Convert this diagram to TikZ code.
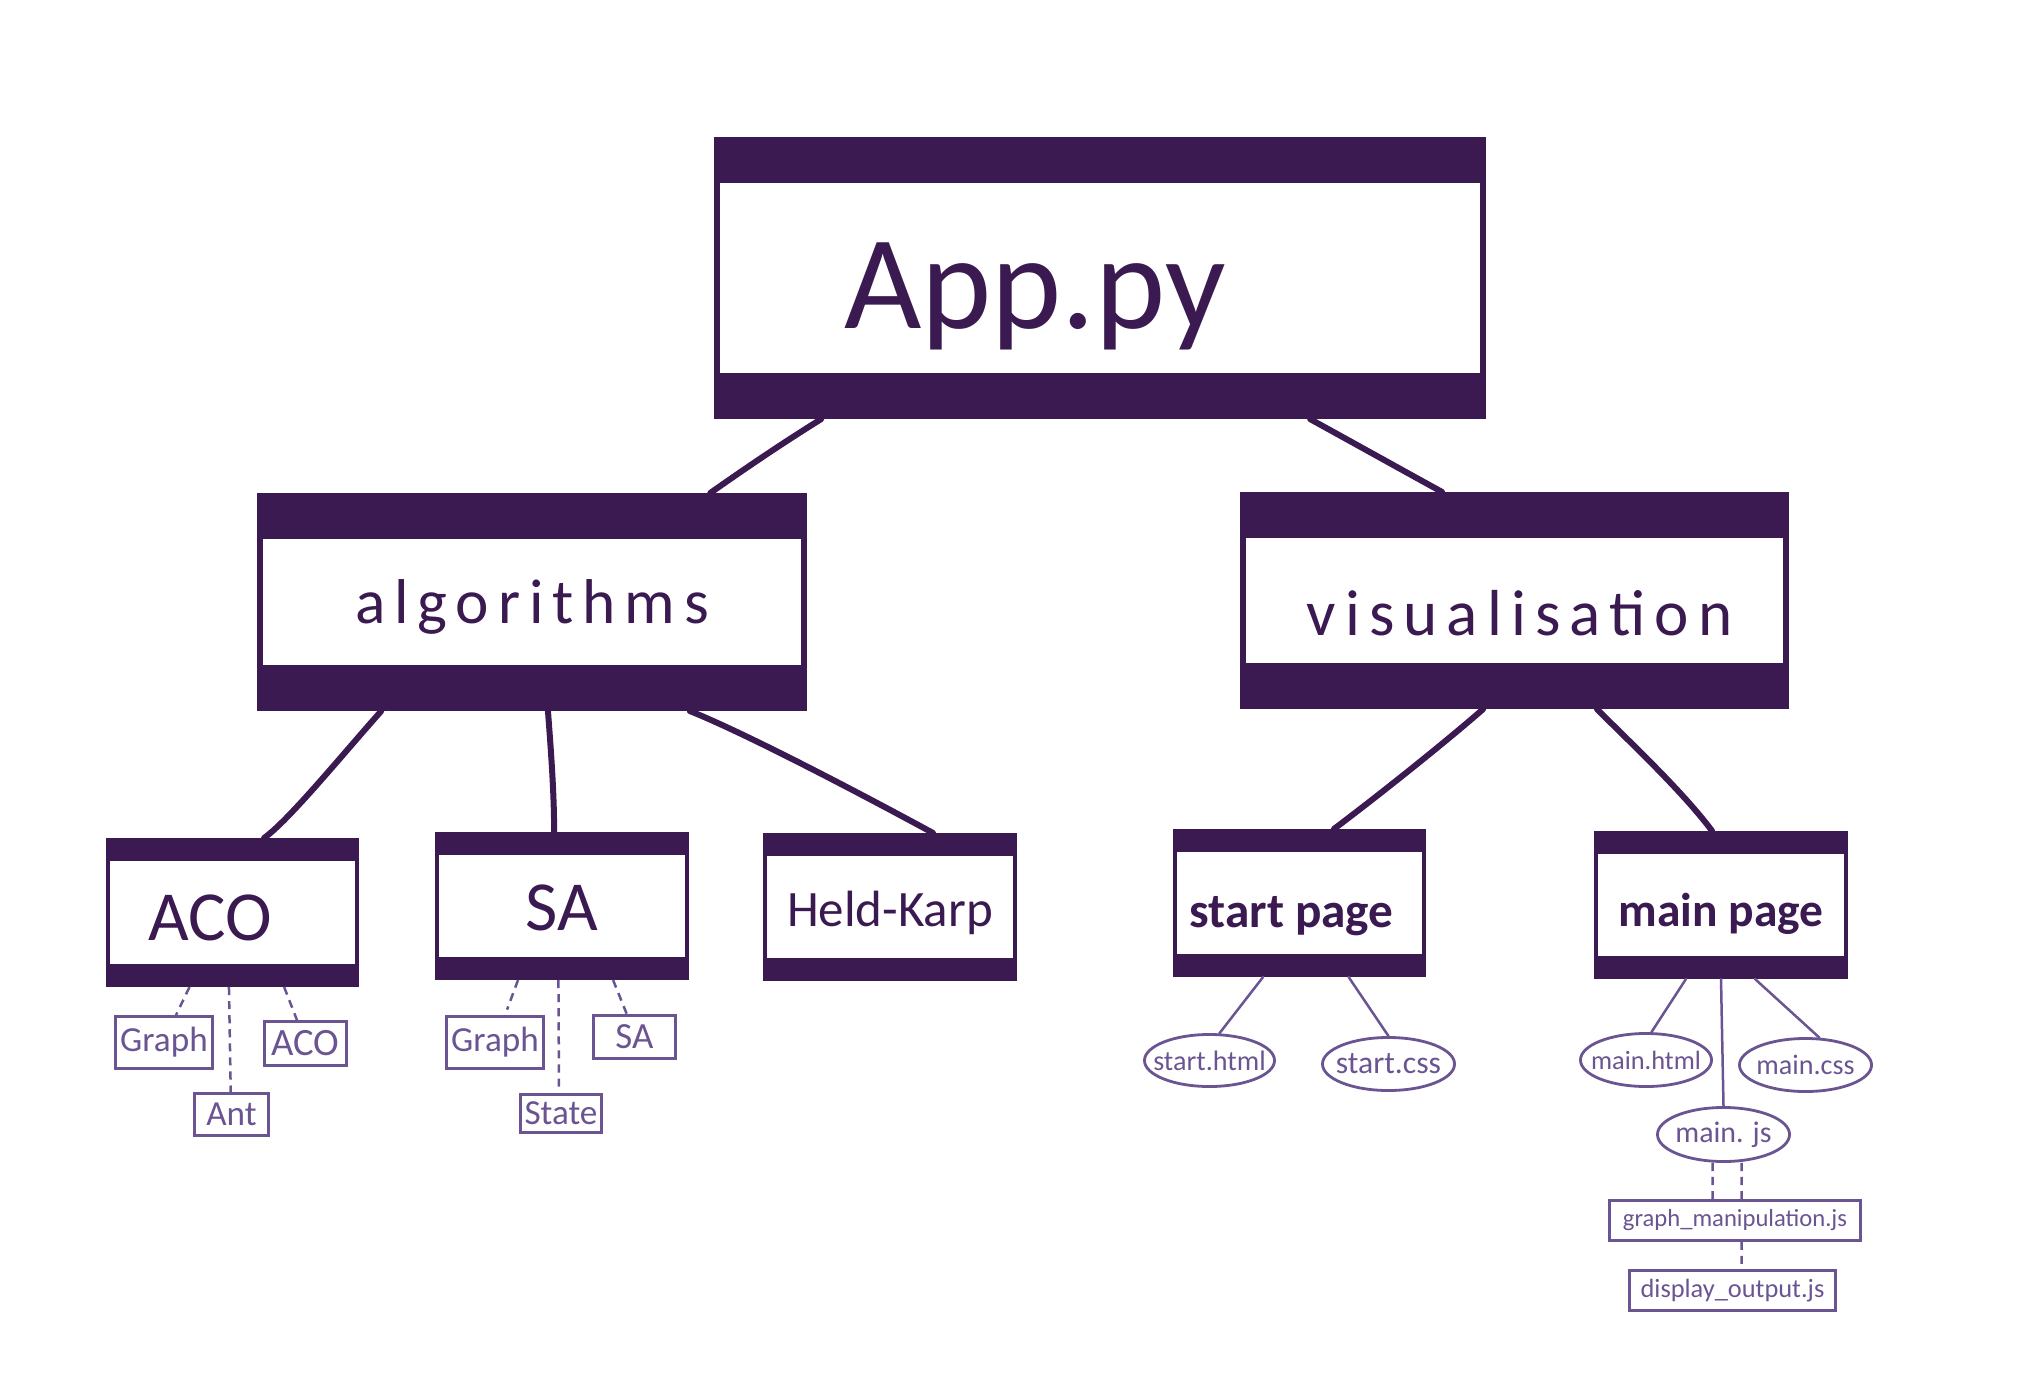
\documentclass[tikz,border=0pt]{standalone}
\usepackage{fontspec}
\setmainfont{Carlito}
\newfontfamily\widehand[LetterSpace=14]{Carlito}
\usetikzlibrary{calc,shapes.geometric}
\definecolor{darkplum}{HTML}{3A1A50}
\definecolor{lightplum}{HTML}{6A5592}
\tikzset{
  bandfill/.style={path picture={
      \fill[darkplum] (path picture bounding box.north west) rectangle ([yshift=-#1]path picture bounding box.north east);
      \fill[darkplum] (path picture bounding box.south west) rectangle ([yshift=#1]path picture bounding box.south east);
    }},
  pkgbox/.style={draw=darkplum, fill=white, line width=0.06cm, inner sep=0pt, bandfill=0.43cm},
  modbox/.style={draw=darkplum, fill=white, line width=0.04cm, inner sep=0pt, bandfill=0.21cm},
  boxtext/.style={text=darkplum, inner sep=0pt},
  classbox/.style={draw=lightplum, line width=0.025cm, inner sep=0pt, text=lightplum, font=\fontsize{10}{12}\selectfont},
  filebubble/.style={ellipse, draw=lightplum, line width=0.028cm, inner sep=0pt, inner xsep=-0.12cm, text=lightplum, font=\fontsize{8.5}{10}\selectfont},
  trunk/.style={darkplum, line width=0.06cm, line cap=round},
  twig/.style={lightplum, line width=0.025cm, line cap=round},
  dashtwig/.style={lightplum, line width=0.025cm, dash pattern=on 2.3pt off 1.7pt},
}

\begin{document}
\begin{tikzpicture}[x=0.01cm,y=-0.01cm]
  \fill[white] (0,0) rectangle (2036,1382);
  \useasboundingbox (0,0) rectangle (2036,1382);

  % packages
  \node[pkgbox, minimum width=7.66cm, minimum height=2.76cm,
    label={[boxtext, font=\fontsize{38}{40}\selectfont, xshift=-0.65cm, yshift=-0.18cm]center:App.py}] (app) at (1100,278) {};
  \node[pkgbox, minimum width=5.44cm, minimum height=2.12cm,
    label={[boxtext, font=\widehand\fontsize{18}{20}\selectfont, yshift=-0.05cm]center:algorithms}] (algo) at (532,602) {};
  \node[pkgbox, minimum width=5.43cm, minimum height=2.11cm,
    label={[boxtext, font=\widehand\fontsize{18.5}{20}\selectfont, xshift=0.05cm, yshift=-0.125cm]center:visualisation}] (vis) at (1514.5,600.5) {};

  % modules
  \node[modbox, minimum width=2.49cm, minimum height=1.45cm,
    label={[boxtext, font=\fontsize{20}{22}\selectfont, xshift=-0.22cm, yshift=-0.055cm]center:ACO}] (aco) at (232.5,912.5) {};
  \node[modbox, minimum width=2.50cm, minimum height=1.44cm,
    label={[boxtext, font=\fontsize{20}{22}\selectfont, yshift=-0.02cm]center:SA}] (sa) at (562,906) {};
  \node[modbox, minimum width=2.50cm, minimum height=1.44cm,
    label={[boxtext, font=\fontsize{14.5}{16}\selectfont, yshift=-0.06cm]center:Held-Karp}] (hk) at (890,907) {};
  \node[modbox, minimum width=2.49cm, minimum height=1.44cm,
    label={[boxtext, font=\bfseries\fontsize{14}{16}\selectfont, xshift=-0.08cm, yshift=-0.135cm]center:start page}] (start) at (1299.5,903) {};
  \node[modbox, minimum width=2.50cm, minimum height=1.44cm,
    label={[boxtext, font=\bfseries\fontsize{13.5}{15}\selectfont, yshift=-0.09cm]center:main page}] (main) at (1721,905) {};

  % classes
  \node[classbox, minimum width=0.97cm, minimum height=0.52cm] (g1) at (164,1042.5) {Graph};
  \node[classbox, minimum width=0.82cm, minimum height=0.44cm, font=\fontsize{11}{13}\selectfont] (acoc) at (305.5,1043.5) {ACO};
  \node[classbox, minimum width=0.74cm, minimum height=0.42cm] (ant) at (231.5,1114.5) {Ant};
  \node[classbox, minimum width=0.97cm, minimum height=0.52cm] (g2) at (495,1042.5) {Graph};
  \node[classbox, minimum width=0.82cm, minimum height=0.43cm, font=\fontsize{10.5}{12}\selectfont] (sac) at (634.5,1037) {SA};
  \node[classbox, minimum width=0.81cm, minimum height=0.38cm] (state) at (561,1113.5) {State};

  % web files
  \node[filebubble, minimum width=1.30cm, minimum height=0.52cm, font=\fontsize{8}{10}\selectfont] (sh) at (1209.5,1060.5) {start.html};
  \node[filebubble, minimum width=1.32cm, minimum height=0.53cm, font=\fontsize{9}{11}\selectfont] (sc) at (1388.5,1064) {start.css};
  \node[filebubble, minimum width=1.31cm, minimum height=0.53cm, font=\fontsize{7.5}{9}\selectfont] (mh) at (1646,1060) {main.html};
  \node[filebubble, minimum width=1.32cm, minimum height=0.53cm, font=\fontsize{8}{10}\selectfont] (mc) at (1805.5,1065) {main.css};
  \node[filebubble, minimum width=1.32cm, minimum height=0.54cm] (mj) at (1723.5,1134.5) {main. js};
  \node[classbox, minimum width=2.51cm, minimum height=0.40cm, font=\fontsize{7}{9}\selectfont] (gm) at (1735,1220.5) {graph\_manipulation.js};
  \node[classbox, minimum width=2.06cm, minimum height=0.40cm, font=\fontsize{7.5}{9}\selectfont] (disp) at (1732.5,1290.5) {display\_output.js};

  % thick links
  \draw[trunk] ($(app.south west)!0.139!(app.south east)$) .. controls +(-40,25) and +(40,-28) .. ($(algo.north west)!0.824!(algo.north east)$);
  \draw[trunk] ($(app.south west)!0.772!(app.south east)$) .. controls +(40,22) and +(-40,-22) .. ($(vis.north west)!0.368!(vis.north east)$);
  \draw[trunk] ($(algo.south west)!0.226!(algo.south east)$) .. controls +(-40,45) and +(25,-18) .. ($(aco.north west)!0.625!(aco.north east)$);
  \draw[trunk] ($(algo.south west)!0.529!(algo.south east)$) .. controls +(3,40) and +(0,-40) .. ($(sa.north west)!0.469!(sa.north east)$);
  \draw[trunk] ($(algo.south west)!0.787!(algo.south east)$) .. controls +(60,24) and +(-55,-30) .. ($(hk.north west)!0.669!(hk.north east)$);
  \draw[trunk] ($(vis.south west)!0.443!(vis.south east)$) .. controls +(-40,35) and +(40,-30) .. ($(start.north west)!0.636!(start.north east)$);
  \draw[trunk] ($(vis.south west)!0.650!(vis.south east)$) .. controls +(35,35) and +(-30,-40) .. ($(main.north west)!0.465!(main.north east)$);

  % thin links
  \draw[dashtwig] ($(aco.south west)!0.33!(aco.south east)$) -- ($(g1.north west)!0.62!(g1.north east)$);
  \draw[dashtwig] ($(aco.south west)!0.486!(aco.south east)$) -- ($(ant.north west)!0.49!(ant.north east)$);
  \draw[dashtwig] ($(aco.south west)!0.704!(aco.south east)$) -- ($(acoc.north west)!0.4!(acoc.north east)$);
  \draw[dashtwig, shorten >=0.06cm] ($(sa.south west)!0.327!(sa.south east)$) -- ($(g2.north west)!0.6!(g2.north east)$);
  \draw[dashtwig, shorten >=0.04cm] ($(sa.south west)!0.486!(sa.south east)$) -- ($(state.north west)!0.476!(state.north east)$);
  \draw[dashtwig] ($(sa.south west)!0.701!(sa.south east)$) -- ($(sac.north west)!0.41!(sac.north east)$);
  \draw[twig] ($(start.south west)!0.356!(start.south east)$) -- (sh.70);
  \draw[twig] ($(start.south west)!0.694!(start.south east)$) -- (sc.north);
  \draw[twig] ($(main.south west)!0.362!(main.south east)$) -- (mh.79);
  \draw[twig] ($(main.south west)!0.634!(main.south east)$) -- (mc.63);
  \draw[twig] (main.south) -- (mj.north);
  \draw[dashtwig] ([xshift=-0.11cm]mj.south) -- ([xshift=-0.223cm]gm.north);
  \draw[dashtwig] ([xshift=0.18cm]mj.south) -- ([xshift=0.067cm]gm.north);
  \draw[dashtwig] ([xshift=0.067cm]gm.south) -- ([xshift=0.092cm]disp.north);
\end{tikzpicture}
\end{document}
